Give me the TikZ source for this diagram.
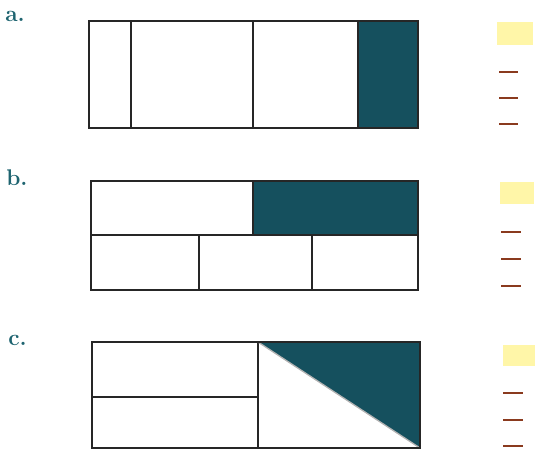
\documentclass[tikz,border=0pt]{standalone}
\begin{document}
\begin{tikzpicture}[x=0.75pt,y=-0.75pt,
  box/.style={draw=black!85,line width=1.3pt},
  divline/.style={draw=black!85,line width=1.1pt},
  shade/.style={fill=shadeteal},
  lbl/.style={text=labelteal,font=\fontsize{17}{17}\selectfont\bfseries,anchor=west,inner sep=0pt},
  yel/.style={fill=paleyellow,draw=none},
  dashmark/.style={draw=dashbrown,line width=1.6pt}]
\definecolor{shadeteal}{HTML}{15505E}
\definecolor{labelteal}{HTML}{1E6470}
\definecolor{paleyellow}{HTML}{FFF6A8}
\definecolor{dashbrown}{HTML}{8A3A1E}
\useasboundingbox (0,0) rectangle (536,451);
% a
\node[lbl] (la) at (5,16) {a.};
\fill[shade] (358,21) rectangle (418,128);
\draw[divline] (131,21) -- (131,128) (253,21) -- (253,128) (358,21) -- (358,128);
\draw[box] (89,21) rectangle (418,128);
% b
\node[lbl] (lb) at (6,178) {b.};
\fill[shade] (253,181) rectangle (418,235);
\draw[divline] (91,235) -- (418,235) (253,181) -- (253,235)
  (199,235) -- (199,290) (312,235) -- (312,290);
\draw[box] (91,181) rectangle (418,290);
% c
\node[lbl] (lc) at (8,340) {c.};
\fill[shade] (258,342) -- (420,342) -- (420,448) -- cycle;
\draw[divline] (258,342) -- (258,448) (92,397) -- (258,397);
\draw[draw=gray!60,line width=1pt] (258,342) -- (420,448);
\draw[box] (92,342) rectangle (420,448);
% answer marks
\fill[yel] (497,22) rectangle (533,45);
\fill[yel] (500,182) rectangle (534,204);
\fill[yel] (503,345) rectangle (535,366);
\draw[dashmark] (499,72) -- (518,72) (499,98) -- (518,98) (499,124) -- (518,124);
\draw[dashmark] (501,232) -- (521,232) (501,259) -- (521,259) (501,286) -- (521,286);
\draw[dashmark] (503,393) -- (523,393) (503,420) -- (523,420) (503,446) -- (523,446);
\end{tikzpicture}
\end{document}
